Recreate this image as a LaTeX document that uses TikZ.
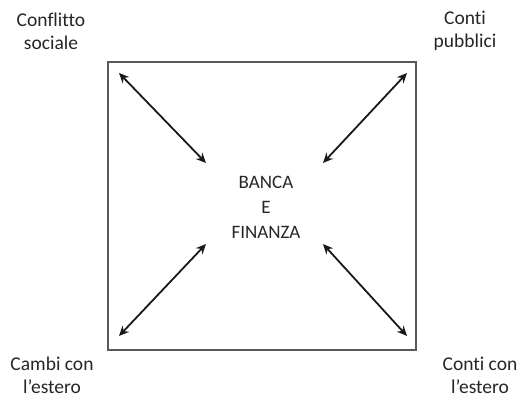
\documentclass[tikz,border=0pt]{standalone}
\usepackage{fontspec}
\setmainfont{Carlito}[Ligatures=NoCommon]
\usetikzlibrary{arrows.meta}
\begin{document}
\begin{tikzpicture}[x=1pt, y=-1pt, font=\fontsize{19.5}{23}\selectfont,
        label/.style={align=center, inner sep=0pt, text=black!85},
        link/.style={line width=1.8pt, draw=black!90, {Stealth[length=10pt,width=9pt]}-{Stealth[length=10pt,width=9pt]}}]
        \useasboundingbox (0,0) rectangle (522,398);

        \draw[line width=2pt, draw=black!65] (108,62) rectangle (416,350);

        \node[label, font=\fontsize{19}{25}\selectfont] (banca) at (266,207) {BANCA\\E\\FINANZA};

        \node[label] (conflitto) at (51,31) {Conflitto\\sociale};
        \node[label] (pubblici) at (465,31) {Conti\\pubblici};
        \node[label] (cambi) at (52,375) {Cambi con\\l'estero};
        \node[label] (estero) at (480,375) {Conti con\\l'estero};

        \coordinate (tl) at (119,73);
        \coordinate (tr) at (407,73);
        \coordinate (bl) at (119,336);
        \coordinate (br) at (407,336);
        \coordinate (ctl) at (206,163);
        \coordinate (ctr) at (323,163);
        \coordinate (cbl) at (206,244);
        \coordinate (cbr) at (323,244);

        \draw[link] (tl) -- (ctl);
        \draw[link] (tr) -- (ctr);
        \draw[link] (bl) -- (cbl);
        \draw[link] (br) -- (cbr);
    \end{tikzpicture}
\end{document}
